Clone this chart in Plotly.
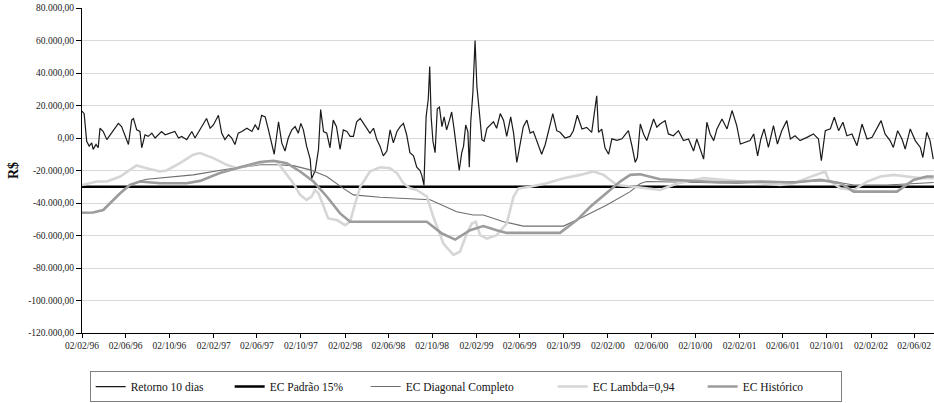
import pandas as pd
import plotly.graph_objects as go

# --- data (values in R$ thousands, dates as days after 02/02/96) ---
START = pd.Timestamp("1996-02-02")
END_DAY = 2367

ret_day = [0, 6, 13, 20, 27, 31, 39, 45, 50, 59, 69, 78, 87, 101, 110, 119, 129, 138, 143, 152,
           161, 166, 175, 184, 194, 203, 212, 221, 231, 245, 258, 268, 277, 291, 305, 314, 328, 346, 356, 365,
           379, 388, 397, 407, 416, 425, 434, 444, 458, 472, 481, 490, 499, 509, 518, 527, 534, 546, 555, 564,
           573, 583, 592, 601, 608, 615, 624, 634, 638, 648, 657, 663, 671, 680, 689, 698, 707, 717, 726, 736,
           745, 754, 763, 773, 791, 800, 810, 819, 828, 837, 847, 856, 865, 875, 884, 893, 902, 911, 921, 930,
           939, 944, 950, 956, 962, 966, 970, 975, 981, 987, 993, 1000, 1006, 1013, 1021, 1027, 1034, 1041, 1048, 1055,
           1060, 1066, 1072, 1076, 1080, 1086, 1092, 1097, 1101, 1106, 1111, 1117, 1125, 1134, 1143, 1152, 1162, 1171, 1180, 1191,
           1199, 1208, 1217, 1226, 1236, 1245, 1254, 1265, 1277, 1287, 1301, 1308, 1319, 1328, 1342, 1356, 1365, 1376, 1389, 1402,
           1416, 1426, 1430, 1435, 1444, 1453, 1463, 1472, 1486, 1500, 1518, 1528, 1537, 1543, 1551, 1560, 1569, 1588, 1597, 1606,
           1620, 1629, 1643, 1657, 1671, 1685, 1699, 1708, 1727, 1736, 1745, 1755, 1764, 1778, 1792, 1806, 1819, 1829, 1842, 1856,
           1866, 1877, 1886, 1895, 1907, 1921, 1932, 1944, 1958, 1968, 1981, 1995, 2014, 2032, 2046, 2054, 2065, 2079, 2090, 2102,
           2114, 2125, 2139, 2153, 2167, 2181, 2195, 2208, 2220, 2231, 2245, 2254, 2266, 2278, 2287, 2301, 2315, 2329, 2336, 2347,
           2356, 2365]
ret_val = [16.5, 15, -2, -5, -3, -7, -4, -6, 6, 4, -1, 2, 5, 9, 7, 2, -4, 11, 12, 5,
           4, -6, 2, 1, 3, 0, 2, 4, 2, 3, 4, 0, 1, -1, 4, 0, 5, 12, 6, 8,
           14, 3, -1, 2, 0, -4, 3, 4, 6, 4, 8, 5, 14, 13, 5, -3, -10, 10, -3, -8,
           0, 5, 7, 3, 9, 5, -5, -13, -25, -20, -7, 17.5, 4, 3, -6, 11, 7, -7, 5, 4,
           1, 1, 10, 12, 6, 3, 6, -1, -5, -11, -8, 5, -3, 4, 7, 9, 2, -9, -11, -18,
           -20, -23, -29, 13, 24, 44, 13, -2, -9, 18, 19, 7, 13, 5, 11, 16, 5, -9, -20, -9,
           -5, 8, 4, -18, 10, 28, 60, 32, 20, 11, -1, -2, 6, 8, 10, 6, 15, 11, 1, 13,
           3, -15, -5, 7, 11, 3, 4, -3, -10, -4, 8, 15, 4.5, 3.5, 0, 1, 4.5, 14, 5.5, 6.5,
           3.5, 21, 26, 3.5, 5.5, -6, -10, -0.5, -1.5, -0.5, 4.5, -5, -15, -12, 8.6, 2.5, -1.6, 11.7, 6.6, 8.6,
           10.7, 2.5, 1.4, 4.5, -1.6, -0.6, -8, -0.6, -13, 9.7, 2.5, -1.6, 5.6, 11.7, 5.6, 16.9, 7.6, -3.7, -2.7, -1.6,
           2.5, -11, -0.6, 5.6, -5.8, 7.6, -3.7, 4.5, 10.7, -0.6, 1.4, -1.6, 0.4, 2.5, -0.6, -14, 4.5, 5.6, 12.8, 4.5,
           9.7, 1.4, 2.5, -4.7, 8.6, -0.6, 0.4, 5.6, 10.7, 2.5, -1.6, -5.8, 4.5, -0.6, -6.8, 5.6, -1.6, -5.8, -12, 3.5,
           -1.6, -13]

padrao_day = [0, END_DAY]
padrao_val = [-30, -30]

diag_day = [0, 31, 59, 78, 106, 133, 161, 180, 309, 402, 495, 541, 587, 634, 680, 726, 754, 828, 967, 1041,
            1087, 1115, 1171, 1226, 1338, 1393, 1458, 1523, 1551, 1569, 1680, 1819, 1958, 2069, 2144, 2236, 2329, 2366]
diag_val = [-46, -45.8, -44.3, -40.2, -34, -28.9, -26.5, -25.4, -22.7, -19.2, -16.5, -16.5, -17, -19.6, -23.7, -31, -35, -36.5, -38, -45.4,
            -47.4, -47.4, -51.5, -54.2, -54.2, -48.5, -41.2, -33, -28, -26.8, -27.2, -27.8, -27, -26.2, -28.9, -28.9, -27.8, -27.4]

lambda_day = [0, 22, 41, 69, 106, 133, 152, 180, 217, 235, 272, 309, 328, 365, 402, 430, 476, 513, 541, 559,
              587, 606, 624, 638, 647, 657, 675, 684, 708, 731, 745, 754, 773, 800, 828, 856, 875, 893, 911, 930,
              958, 976, 1004, 1032, 1050, 1069, 1083, 1094, 1106, 1125, 1152, 1180, 1199, 1213, 1245, 1291, 1338, 1384, 1421, 1449,
              1486, 1523, 1551, 1606, 1653, 1727, 1773, 1819, 1884, 1940, 1977, 2014, 2051, 2065, 2074, 2107, 2144, 2181, 2218, 2255,
              2292, 2329, 2366]
lambda_val = [-28.9, -27.8, -26.8, -26.8, -23.7, -19.6, -16.9, -18.6, -20.6, -20, -15.5, -10.3, -9.3, -12.4, -16.5, -18.6, -16.5, -14.4, -14.4, -19.6,
              -27.8, -35, -38.1, -36.1, -32, -34, -44.3, -49.5, -50.5, -53.6, -51.5, -44, -30, -20.6, -18, -18.6, -21.6, -27.8, -31, -32,
              -36, -48.5, -65, -72, -70, -58.8, -52.6, -51.5, -59.8, -61.9, -59.8, -52.6, -36, -31, -30, -27.8, -24.7, -22.7, -20.6, -22.7,
              -28.9, -30, -30.5, -32, -28, -24.7, -25.7, -26.8, -27.8, -28.9, -27.8, -24.7, -21.6, -20.6, -25.7, -30.9, -32, -26.8, -23.7, -22.7,
              -23.7, -24.7, -24.7]

hist_day = [0, 31, 59, 78, 106, 133, 161, 217, 291, 328, 383, 439, 495, 532, 569, 606, 643, 680, 717, 745,
            958, 1000, 1037, 1078, 1115, 1152, 1180, 1328, 1375, 1412, 1458, 1495, 1523, 1551, 1606, 1680, 1773, 1884, 1977, 2051,
            2107, 2144, 2264, 2310, 2347, 2366]
hist_val = [-46, -45.8, -44.3, -40.2, -34, -28.9, -26.8, -27.8, -27.8, -26.4, -21.6, -18, -14.8, -14, -15.5, -20.6, -26.8, -36, -46.4, -51.5,
            -51.5, -58.8, -62.5, -56.7, -54.2, -56.7, -58.4, -58.4, -50.5, -42.3, -34, -26.8, -22.7, -22.3, -25.4, -26.2, -27.2, -26.8, -27.4, -25.8,
            -27.8, -33, -33, -25.8, -23.7, -23.7]

x_tick_labels = ["02/02/96", "02/06/96", "02/10/96", "02/02/97", "02/06/97", "02/10/97", "02/02/98",
                 "02/06/98", "02/10/98", "02/02/99", "02/06/99", "02/10/99", "02/02/00", "02/06/00",
                 "02/10/00", "02/02/01", "02/06/01", "02/10/01", "02/02/02", "02/06/02"]
y_tick_vals = [80000, 60000, 40000, 20000, 0, -20000, -40000, -60000, -80000, -100000, -120000]
y_tick_labels = ["80.000,00", "60.000,00", "40.000,00", "20.000,00", "0,00", "-20.000,00", "-40.000,00",
                 "-60.000,00", "-80.000,00", "-100.000,00", "-120.000,00"]

FONT = "Liberation Serif, Times New Roman, DejaVu Serif, serif"


def to_dates(days):
    return [START + pd.Timedelta(days=d) for d in days]


def to_reais(vals):
    return [v * 1000 for v in vals]


series = [
    # name, days, values, color, width, legend entry width
    ("Retorno 10 dias", ret_day, ret_val, "#1a1a1a", 1.2, 94),
    ("EC Padrão 15%", padrao_day, padrao_val, "#000000", 2.6, 91),
    ("EC Diagonal Completo", diag_day, diag_val, "#6e6e6e", 1.1, 142),
    ("EC Lambda=0,94", lambda_day, lambda_val, "#d6d6d6", 2.6, 105),
    ("EC Histórico", hist_day, hist_val, "#9c9c9c", 2.6, 93),
]

fig = go.Figure()
for name, days, vals, color, width, lw in series:
    fig.add_trace(go.Scatter(
        x=to_dates(days), y=to_reais(vals), mode="lines", name=name,
        line=dict(color=color, width=width), legendwidth=lw,
    ))

fig.update_xaxes(
    type="date", range=[START, START + pd.Timedelta(days=END_DAY)],
    tickvals=pd.to_datetime(x_tick_labels, format="%d/%m/%y"), ticktext=x_tick_labels,
    showgrid=False, zeroline=False, showline=True, linecolor="black", linewidth=1,
    ticks="outside", ticklen=4, tickcolor="black", automargin=False,
    tickfont=dict(family=FONT, size=9.5, color="#222"),
)
fig.update_yaxes(
    range=[-120000, 80000], tickvals=y_tick_vals, ticktext=y_tick_labels,
    showgrid=True, gridcolor="#d9d9d9", gridwidth=1, zeroline=False,
    showline=True, linecolor="black", linewidth=1,
    ticks="outside", ticklen=5, tickcolor="black", automargin=False,
    tickfont=dict(family=FONT, size=9.5, color="#222"),
    title=dict(text="<b>R$</b>", font=dict(family=FONT, size=14, color="#111"), standoff=6),
)
fig.update_layout(
    width=934, height=403,
    margin=dict(l=82, r=0, t=8, b=70, autoexpand=False),
    plot_bgcolor="white", paper_bgcolor="white",
    font=dict(family=FONT, size=11.5, color="#111"),
    showlegend=True,
    legend=dict(
        orientation="h", x=0.009, xanchor="left", y=-0.117, yanchor="top",
        bordercolor="#808080", borderwidth=1, bgcolor="white",
        font=dict(family=FONT, size=11.5, color="#111"),
    ),
)

# the page's default body margin would shift the figure by 8px
fig.write_html("out.html", config={"displayModeBar": False},
               post_script="document.body.style.margin = '0px';")
